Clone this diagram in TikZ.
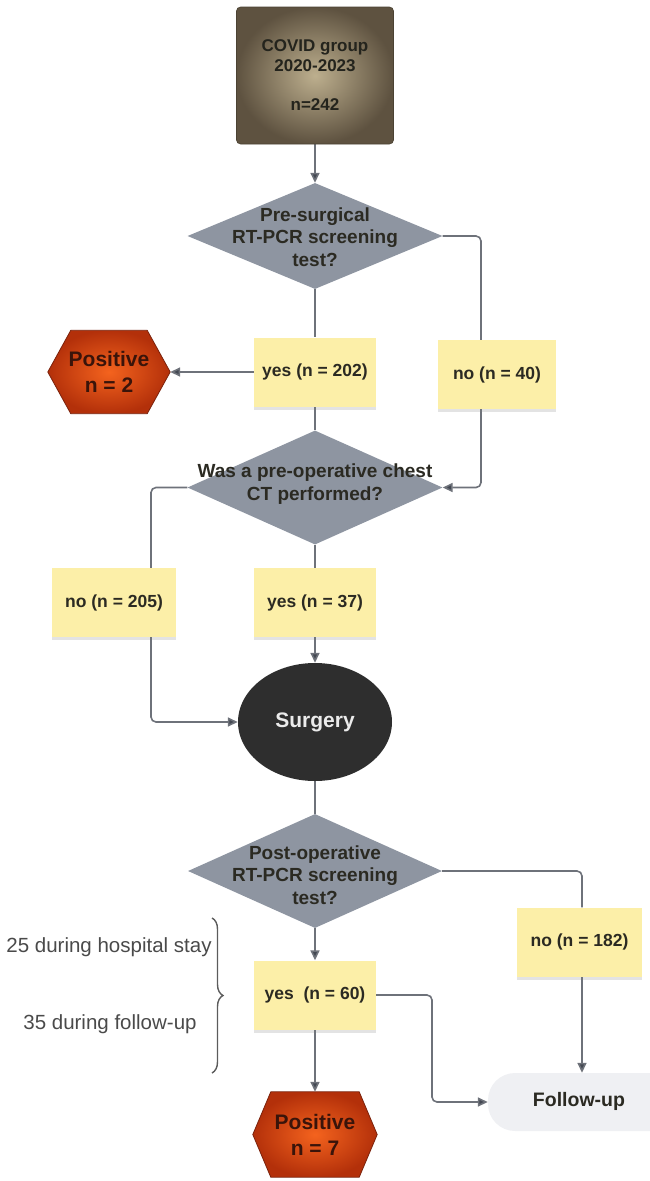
\documentclass[tikz,border=0pt]{standalone}
\usepackage{fontspec}
\setmainfont{Liberation Sans}
\usetikzlibrary{arrows.meta,shapes.geometric,shadows,backgrounds,calc,decorations.pathreplacing}
\pgfdeclarelayer{edges}
\pgfsetlayers{background,edges,main}
\definecolor{boxy}{HTML}{FCEFA8}
\definecolor{diag}{HTML}{8E95A1}
\definecolor{linec}{HTML}{6E727A}
\definecolor{tipc}{HTML}{434852}
\definecolor{txt}{HTML}{2B2A22}
\definecolor{annot}{HTML}{4A4A4A}
\definecolor{hexin}{HTML}{F4631E}
\definecolor{hexout}{HTML}{B3300A}
\definecolor{hexborder}{HTML}{7A220C}
\definecolor{hextxt}{HTML}{3A140A}
\definecolor{topin}{HTML}{BDAF8E}
\definecolor{topout}{HTML}{5E5240}
\definecolor{surgc}{HTML}{2E2E2E}
\definecolor{fuc}{HTML}{EFF0F3}
\newcommand{\hexbg}[2]{%
  \begin{scope}[on background layer]
    \shade[inner color=hexin, outer color=hexout, draw=hexborder, line width=0.8pt]
      (#1.west) -- ($(#1.north west)+(#2,0)$) -- ($(#1.north east)+(-#2,0)$) --
      (#1.east) -- ($(#1.south east)+(-#2,0)$) -- ($(#1.south west)+(#2,0)$) -- cycle;
  \end{scope}}
\begin{document}
\begin{tikzpicture}[x=1pt,y=-1pt,
  yb/.style={draw=none, fill=boxy, minimum width=#1, minimum height=69, inner sep=0pt,
    font=\fontsize{17.5}{21}\selectfont\bfseries, text=txt,
    drop shadow={shadow xshift=0pt, shadow yshift=-3pt, opacity=0.22}},
  dia/.style={diamond, fill=diag, draw=none, inner sep=0pt},
  diatext/.style={align=center, inner sep=0pt, text=txt, font=\fontsize{19}{22.5}\selectfont\bfseries},
  hexnode/.style={rectangle, draw=none, inner sep=0pt, align=center, text=hextxt,
    font=\fontsize{21}{26}\selectfont\bfseries},
  conn/.style={draw=linec, line width=1.6pt},
  arr/.style={conn, -{Triangle[length=10pt,width=9pt,fill=tipc]}},
  annottext/.style={inner sep=0pt, text=annot, font=\fontsize{20.5}{24}\selectfont}
]
\useasboundingbox (0,0) rectangle (649,1181);

% ---- nodes ----
\node[rectangle, rounded corners=4pt, inner color=topin, outer color=topout, draw=topout!80!black,
  line width=0.6pt, minimum width=157, minimum height=137, align=center, text=txt!85!black,
  font=\fontsize{17}{20}\selectfont\bfseries] (top) at (315,75.5)
  {COVID group\\2020-2023\\[19pt]n=242};

\node[dia, minimum width=255, minimum height=106] (d1) at (315,236) {};
\node[diatext] (d1t) at (315,237) {Pre-surgical\\RT-PCR screening\\test?};

\node[yb=122] (y202) at (315,372) {yes (n = 202)};
\node[hexnode, minimum width=122, minimum height=83] (pos1) at (109,372) {Positive\\n = 2};
\hexbg{pos1}{23}

\node[yb=118] (n40) at (497,374.5) {no (n = 40)};

\node[dia, minimum width=255, minimum height=114] (d2) at (315,487.5) {};
\node[diatext] (d2t) at (315,484) {Was a pre-operative chest\\CT performed?};

\node[yb=124] (n205) at (114,602.5) {no (n = 205)};
\node[yb=122] (y37) at (315,602.5) {yes (n = 37)};

\node[ellipse, fill=surgc, draw=none, minimum width=154, minimum height=118, inner sep=0pt,
  text=white!92!black, font=\fontsize{21}{25}\selectfont\bfseries] (surg) at (315,722) {Surgery};

\node[dia, minimum width=254, minimum height=114] (d3) at (315,871) {};
\node[diatext] (d3t) at (315,875) {Post-operative\\RT-PCR screening\\test?};

\node[yb=125] (n182) at (579.5,942) {no (n = 182)};
\node[yb=122] (y60) at (315,995) {yes~~(n = 60)};

\node[hexnode, minimum width=124, minimum height=85] (pos2) at (315,1134.5) {Positive\\n = 7};
\hexbg{pos2}{18}

\node[rectangle, rounded corners=27pt, fill=fuc, draw=none, minimum width=190, minimum height=58,
  inner sep=0pt] (fu) at (583,1102) {};
\node[inner sep=0pt, text=txt, font=\fontsize{19.5}{23}\selectfont\bfseries] (fut) at (579,1101) {Follow-up};

\node[annottext] (a1) at (109,947) {25 during hospital stay};
\node[annottext] (a2) at (110,1024) {35 during follow-up};
\coordinate (bt) at (212,918);
\coordinate (bb) at (212,1073);
\draw[draw=annot!90, line width=1.4pt, decorate, decoration={brace, amplitude=11pt, aspect=0.5}] (bt) -- (bb);

% ---- connectors ----
\coordinate (c1) at (481,236);
\coordinate (c2) at (151,487.5);
\coordinate (c3) at (582,871);
\coordinate (c5) at (432,995);
\begin{pgfonlayer}{edges}
\draw[arr] (top.south) -- (d1.north);
\draw[conn] (d1.south) -- (y202.north);
\draw[arr] (y202.west) -- (pos1.east);
\draw[conn, rounded corners=5pt] (d1.east) -- (c1) -- (c1 |- n40.north);
\draw[arr, rounded corners=5pt] (c1 |- n40.south) |- (d2.east);
\draw[conn] (y202.south) -- (d2.north);
\draw[conn, rounded corners=5pt] (d2.west) -- (c2) -- (c2 |- n205.north);
\draw[arr, rounded corners=5pt] (c2 |- n205.south) |- (surg.west);
\draw[conn] (d2.south) -- (y37.north);
\draw[arr] (y37.south) -- (surg.north);
\draw[conn] (surg.south) -- (d3.north);
\draw[conn, rounded corners=5pt] (d3.east) -- (c3) -- (c3 |- n182.north);
\draw[arr] (c3 |- n182.south) -- (c3 |- fu.north);
\draw[arr] (d3.south) -- (y60.north);
\draw[arr, rounded corners=5pt] (y60.east) -- (c5) |- (fu.west);
\draw[arr] (y60.south) -- (pos2.north);
\end{pgfonlayer}
\end{tikzpicture}
\end{document}
